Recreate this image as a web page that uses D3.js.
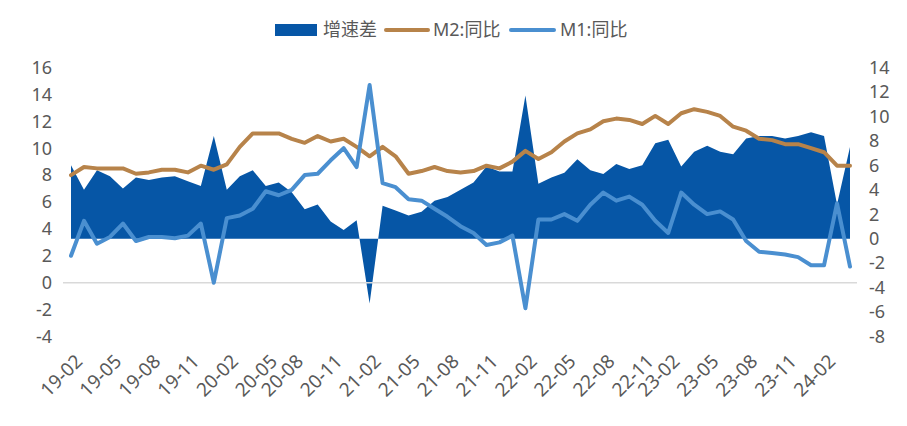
<!DOCTYPE html>
<html><head><meta charset="utf-8">
<script src="https://cdn.jsdelivr.net/npm/d3@7"></script>
<style>body{margin:0;background:#fff}svg{display:block}text{font-family:"Noto Sans","Noto Sans CJK SC",sans-serif;fill:#595959}</style>
</head><body><svg id="c" width="907" height="426"></svg>
<script>
// monthly data 2019-02 .. 2024-02
const m2 = [8.0,8.6,8.5,8.5,8.5,8.1,8.2,8.4,8.4,8.2,8.7,8.4,8.8,10.1,11.1,11.1,11.1,10.7,10.4,10.9,10.5,10.7,10.1,9.4,10.1,9.4,8.1,8.3,8.6,8.3,8.2,8.3,8.7,8.5,9.0,9.8,9.2,9.7,10.5,11.1,11.4,12.0,12.2,12.1,11.8,12.4,11.8,12.6,12.9,12.7,12.4,11.6,11.3,10.7,10.6,10.3,10.3,10.0,9.7,8.7,8.7];
const m1 = [2.0,4.6,2.9,3.4,4.4,3.1,3.4,3.4,3.3,3.5,4.4,0.0,4.8,5.0,5.5,6.8,6.5,6.9,8.0,8.1,9.1,10.0,8.6,14.7,7.4,7.1,6.2,6.1,5.5,4.9,4.2,3.7,2.8,3.0,3.5,-1.9,4.7,4.7,5.1,4.6,5.8,6.7,6.1,6.4,5.8,4.6,3.7,6.7,5.8,5.1,5.3,4.7,3.1,2.3,2.2,2.1,1.9,1.3,1.3,5.9,1.2];
const spread = [6.0,4.0,5.6,5.1,4.1,5.0,4.8,5.0,5.1,4.7,4.3,8.4,4.0,5.1,5.6,4.3,4.6,3.8,2.4,2.8,1.4,0.7,1.5,-5.3,2.7,2.3,1.9,2.2,3.1,3.4,4.0,4.6,5.9,5.5,5.5,11.7,4.5,5.0,5.4,6.5,5.6,5.3,6.1,5.7,6.0,7.8,8.1,5.9,7.1,7.6,7.1,6.9,8.2,8.4,8.4,8.2,8.4,8.7,8.4,2.8,7.5];
const xLabels = ["19-02","19-05","19-08","19-11","20-02","20-05","20-08","20-11","21-02","21-05","21-08","21-11","22-02","22-05","22-08","22-11","23-02","23-05","23-08","23-11","24-02"];
const xLabelIdx = [0,3,6,9,12,15,17,20,23,26,29,32,35,38,41,44,46,49,52,55,58];
const leftTicks = [-4,-2,0,2,4,6,8,10,12,14,16];
const rightTicks = [-8,-6,-4,-2,0,2,4,6,8,10,12,14];
const seriesNames = ["增速差","M2:同比","M1:同比"];
const colors = {area:"#0656a6", m2:"#b7834a", m1:"#4a8fd0"};

const svg = d3.select("#c");
const x = d3.scaleLinear().domain([0, m2.length-1]).range([71, 850]);
const yL = d3.scaleLinear().domain([-4,16]).range([336.5,67.5]);
const yR = d3.scaleLinear().domain([-8,14]).range([336.5,67.5]);
const idx = d3.range(m2.length);

// area
svg.append("path").datum(idx)
  .attr("d", d3.area().x(i=>x(i)).y0(yR(0)).y1(i=>yR(spread[i])))
  .attr("fill", colors.area);

// zero gridline (left axis)
svg.append("line").attr("x1",63).attr("x2",857).attr("y1",yL(0)).attr("y2",yL(0))
  .attr("stroke","#d9d9d9").attr("stroke-width",1.5);

const line = arr => d3.line().x(i=>x(i)).y(i=>yL(arr[i]));
svg.append("path").datum(idx).attr("d", line(m2)).attr("fill","none")
  .attr("stroke",colors.m2).attr("stroke-width",4).attr("stroke-linejoin","round").attr("stroke-linecap","round");
svg.append("path").datum(idx).attr("d", line(m1)).attr("fill","none")
  .attr("stroke",colors.m1).attr("stroke-width",4).attr("stroke-linejoin","round").attr("stroke-linecap","round");

// left axis
svg.append("g").selectAll("text").data(leftTicks).join("text")
  .attr("x",52).attr("y",d=>yL(d)).attr("dy","0.35em").attr("text-anchor","end")
  .attr("font-size",18).text(d=>d);
// right axis
svg.append("g").selectAll("text").data(rightTicks).join("text")
  .attr("x",869).attr("y",d=>yR(d)).attr("dy","0.35em").attr("text-anchor","start")
  .attr("font-size",18).text(d=>d);
// x labels
svg.append("g").selectAll("text").data(xLabels).join("text")
  .attr("transform",(d,i)=>`translate(${x(xLabelIdx[i])+3},${353}) rotate(-45)`)
  .attr("text-anchor","end").attr("dy","0.72em").attr("font-size",19).text(d=>d);

// legend
const lg = svg.append("g");
lg.append("rect").attr("x",275).attr("y",24).attr("width",42).attr("height",12).attr("fill",colors.area);
lg.append("text").attr("x",323).attr("y",30).attr("dy","0.35em").attr("font-size",18).text(seriesNames[0]);
lg.append("line").attr("x1",386).attr("x2",428).attr("y1",30).attr("y2",30).attr("stroke",colors.m2).attr("stroke-width",4).attr("stroke-linecap","round");
lg.append("text").attr("x",433).attr("y",30).attr("dy","0.35em").attr("font-size",18).text(seriesNames[1]);
lg.append("line").attr("x1",511).attr("x2",554).attr("y1",30).attr("y2",30).attr("stroke",colors.m1).attr("stroke-width",4).attr("stroke-linecap","round");
lg.append("text").attr("x",560).attr("y",30).attr("dy","0.35em").attr("font-size",18).text(seriesNames[2]);
</script></body></html>
